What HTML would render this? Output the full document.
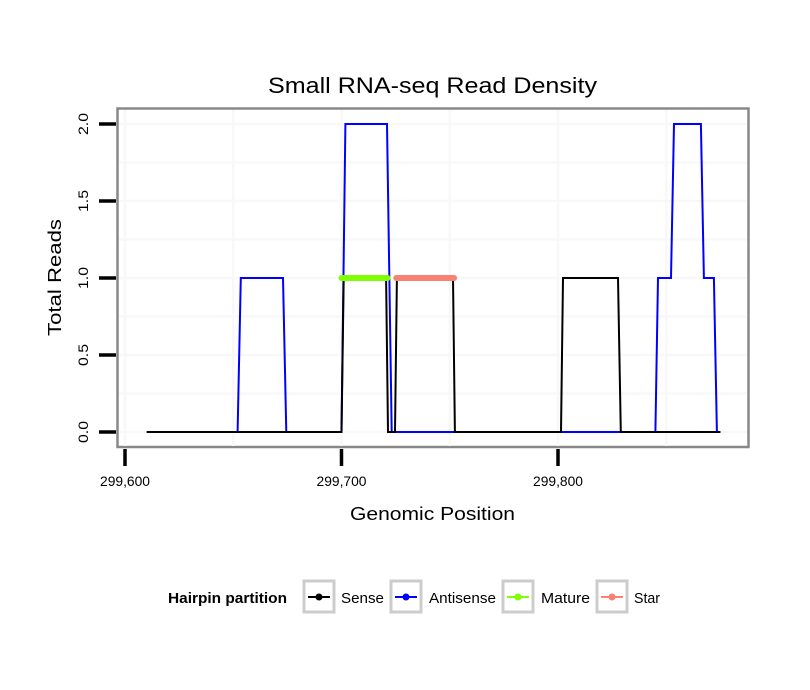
<!DOCTYPE html>
<html><head><meta charset="utf-8"><style>
body{margin:0;background:#fff;}
svg{display:block;font-family:"Liberation Sans",sans-serif;}
</style></head><body>
<svg id="chart" width="810" height="690" viewBox="0 0 810 690">
<text x="268" y="93" font-size="22" textLength="329" lengthAdjust="spacingAndGlyphs">Small RNA-seq Read Density</text>
<rect x="117.5" y="108.5" width="631" height="338.5" fill="#fff" stroke="#888" stroke-width="2.5"/>
<g id="grid"></g>
<g id="series"></g>
<g id="axes"></g>
<text x="350" y="520" font-size="18" textLength="165" lengthAdjust="spacingAndGlyphs">Genomic Position</text>
<text transform="translate(61,336) rotate(-90)" font-size="18" textLength="117" lengthAdjust="spacingAndGlyphs">Total Reads</text>
<g>
<text x="168" y="603" font-size="15" font-weight="bold" textLength="119" lengthAdjust="spacingAndGlyphs">Hairpin partition</text>
<g><rect x="304" y="581" width="30" height="31" fill="#fff" stroke="#ccc" stroke-width="3"/><line x1="308" x2="330" y1="597" y2="597" stroke="#000" stroke-width="2"/><circle cx="319" cy="597" r="3.5" fill="#000"/><text x="341" y="603" font-size="15" textLength="43" lengthAdjust="spacingAndGlyphs">Sense</text></g>
<g><rect x="391" y="581" width="30" height="31" fill="#fff" stroke="#ccc" stroke-width="3"/><line x1="395" x2="417" y1="597" y2="597" stroke="#00f" stroke-width="2"/><circle cx="406" cy="597" r="3.5" fill="#00f"/><text x="429" y="603" font-size="15" textLength="67" lengthAdjust="spacingAndGlyphs">Antisense</text></g>
<g><rect x="503" y="581" width="30" height="31" fill="#fff" stroke="#ccc" stroke-width="3"/><line x1="507" x2="529" y1="597" y2="597" stroke="#7fff00" stroke-width="2"/><circle cx="518" cy="597" r="3.5" fill="#7fff00"/><text x="541" y="603" font-size="15" textLength="49" lengthAdjust="spacingAndGlyphs">Mature</text></g>
<g><rect x="597" y="581" width="30" height="31" fill="#fff" stroke="#ccc" stroke-width="3"/><line x1="601" x2="623" y1="597" y2="597" stroke="#fa8072" stroke-width="2"/><circle cx="612" cy="597" r="3.5" fill="#fa8072"/><text x="634" y="603" font-size="15" textLength="26" lengthAdjust="spacingAndGlyphs">Star</text></g>
</g>
</svg>
<script>
const xTicks=[299600,299700,299800];
const xTickLabels=["299,600","299,700","299,800"];
const xMinor=[299650,299750,299850];
const yTicks=[0,0.5,1,1.5,2];
const yTickLabels=["0.0","0.5","1.0","1.5","2.0"];
const senseX=[299610,299700,299701,299720.6,299721.5,299724.7,299725.6,299751.5,299752.4,299801.4,299802.3,299827.7,299829,299875];
const senseY=[0,0,1,1,0,0,1,1,0,0,1,1,0,0];
const antiX=[299610,299652,299653.5,299673,299674.5,299700,299701.8,299721,299723.2,299845,299846.2,299852.2,299853.6,299866,299867.4,299872,299873.4,299875];
const antiY=[0,0,1,1,0,0,2,2,0,0,1,1,2,2,1,1,0,0];
const matureX=[299700,299721.3];
const matureY=[1,1];
const starX=[299725.3,299752];
const starY=[1,1];

const NS="http://www.w3.org/2000/svg";
function xs(v){return 125+(v-299600)*2.165;}
function ys(v){return 432-v*154;}
function mk(tag,attrs,parent){const e=document.createElementNS(NS,tag);for(const k in attrs)e.setAttribute(k,attrs[k]);parent.appendChild(e);return e;}
const grid=document.getElementById('grid'),axes=document.getElementById('axes'),series=document.getElementById('series');
xTicks.concat(xMinor).forEach(v=>{const l=mk('line',{x1:xs(v),x2:xs(v),y1:110,y2:446,stroke:'#f8f8f8','stroke-width':2.5},grid);

});
[0.25,0.75,1.25,1.75].concat(yTicks).forEach(v=>{const l=mk('line',{x1:119,x2:747,y1:ys(v),y2:ys(v),stroke:'#f8f8f8','stroke-width':2.5},grid);

});
xTicks.forEach((v,i)=>{const t=mk('line',{x1:xs(v),x2:xs(v),y1:449,y2:466,stroke:'#000','stroke-width':3.5},axes);


const tx=mk('text',{x:xs(v)-25,y:486,'font-size':14,textLength:50,lengthAdjust:'spacingAndGlyphs'},axes);tx.textContent=xTickLabels[i];

});
yTicks.forEach((v,i)=>{const t=mk('line',{x1:99,x2:116,y1:ys(v),y2:ys(v),stroke:'#000','stroke-width':3.5},axes);


const tx=mk('text',{transform:`translate(88,${ys(v)+11}) rotate(-90)`,'font-size':14,textLength:22,lengthAdjust:'spacingAndGlyphs'},axes);tx.textContent=yTickLabels[i];

});
function path(X,Y){return X.map((x,i)=>(i?'L':'M')+xs(x).toFixed(1)+','+ys(Y[i]).toFixed(1)).join(' ');}
const pa=mk('path',{d:path(antiX,antiY),fill:'none',stroke:'#00f','stroke-width':2},series);


const ps=mk('path',{d:path(senseX,senseY),fill:'none',stroke:'#000','stroke-width':2},series);


const pm=mk('path',{d:path(matureX,matureY),fill:'none',stroke:'#7fff00','stroke-width':6,'stroke-linecap':'round'},series);


const pst=mk('path',{d:path(starX,starY),fill:'none',stroke:'#fa8072','stroke-width':6,'stroke-linecap':'round'},series);


</script>
</body></html>
